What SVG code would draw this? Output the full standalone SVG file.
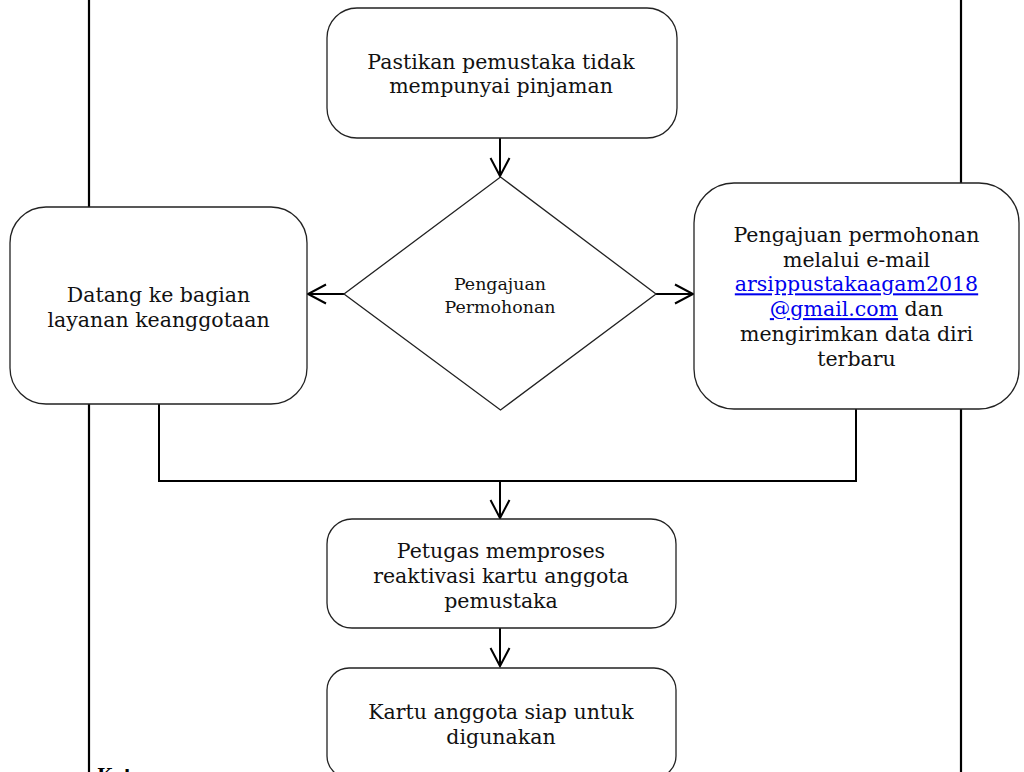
<svg xmlns="http://www.w3.org/2000/svg" width="1024" height="772" viewBox="0 0 1024 772">
  <style>
    .box { fill: #ffffff; stroke: #222222; stroke-width: 1.3; }
    .t { font-family: "DejaVu Serif", "Liberation Serif", serif; font-size: 20.5px; fill: #111111; text-anchor: middle; }
    .td { font-family: "DejaVu Serif", "Liberation Serif", serif; font-size: 17.4px; fill: #111111; text-anchor: middle; }
    .link { fill: #0000ee; text-decoration: underline; }
    .lane { stroke: #000000; stroke-width: 2.2; fill: none; }
    .conn { stroke: #000000; stroke-width: 2; fill: none; }
    .foot { font-family: "DejaVu Serif", "Liberation Serif", serif; font-size: 18px; font-weight: bold; fill: #000000; }
  </style>
  <defs>
    <marker id="arr" markerUnits="userSpaceOnUse" markerWidth="24" markerHeight="24" viewBox="-20 -12 24 24" refX="0" refY="0" orient="auto">
      <path d="M-18,-9.5 L0,0 L-18,9.5" fill="none" stroke="#000000" stroke-width="2"/>
    </marker>
  </defs>
  <rect width="1024" height="772" fill="#ffffff"/>

  <g id="lanes">
    <line class="lane" x1="89" y1="0" x2="89" y2="772"/>
    <line class="lane" x1="961" y1="0" x2="961" y2="772"/>
  </g>

  <g id="connectors">
    <line class="conn" x1="500" y1="138" x2="500" y2="176" marker-end="url(#arr)"/>
    <line class="conn" x1="344" y1="294" x2="308" y2="294" marker-end="url(#arr)"/>
    <line class="conn" x1="656" y1="294" x2="693" y2="294" marker-end="url(#arr)"/>
    <polyline class="conn" points="159,404 159,481 856,481 856,409"/>
    <line class="conn" x1="500" y1="481" x2="500" y2="518" marker-end="url(#arr)"/>
    <line class="conn" x1="500" y1="628" x2="500" y2="666" marker-end="url(#arr)"/>
  </g>

  <g id="node-pastikan">
    <rect class="box" x="327" y="8" width="350" height="130" rx="30" ry="30"/>
    <text class="t" x="501" y="68.5">Pastikan pemustaka tidak</text>
    <text class="t" x="501" y="93">mempunyai pinjaman</text>
  </g>

  <g id="node-keputusan">
    <polygon class="box" points="500.5,177 656,294 500.5,410 344,294"/>
    <text class="td" x="500" y="290">Pengajuan</text>
    <text class="td" x="500" y="312.7">Permohonan</text>
  </g>

  <g id="node-datang">
    <rect class="box" x="10" y="207" width="297" height="197" rx="36" ry="36"/>
    <text class="t" x="158.5" y="302">Datang ke bagian</text>
    <text class="t" x="158.5" y="326.5">layanan keanggotaan</text>
  </g>

  <g id="node-email">
    <rect class="box" x="694" y="183" width="325" height="226" rx="40" ry="40"/>
    <text class="t" x="856.5" y="241.7">Pengajuan permohonan</text>
    <text class="t" x="856.5" y="266.5">melalui e-mail</text>
    <text class="t" x="856.5" y="291.3"><tspan class="link">arsippustakaagam2018</tspan></text>
    <text class="t" x="856.5" y="316.1"><tspan class="link">@gmail.com</tspan> dan</text>
    <text class="t" x="856.5" y="340.9">mengirimkan data diri</text>
    <text class="t" x="856.5" y="365.7">terbaru</text>
  </g>

  <g id="node-petugas">
    <rect class="box" x="327" y="519" width="349" height="109" rx="25" ry="25"/>
    <text class="t" x="501" y="558.3">Petugas memproses</text>
    <text class="t" x="501" y="583">reaktivasi kartu anggota</text>
    <text class="t" x="501" y="607.5">pemustaka</text>
  </g>

  <g id="node-kartu">
    <rect class="box" x="327" y="668" width="349" height="110" rx="22" ry="22"/>
    <text class="t" x="501" y="719">Kartu anggota siap untuk</text>
    <text class="t" x="501" y="744">digunakan</text>
  </g>

  <g id="footer">
    <text class="foot" x="97" y="782">Keterangan</text>
  </g>
</svg>
